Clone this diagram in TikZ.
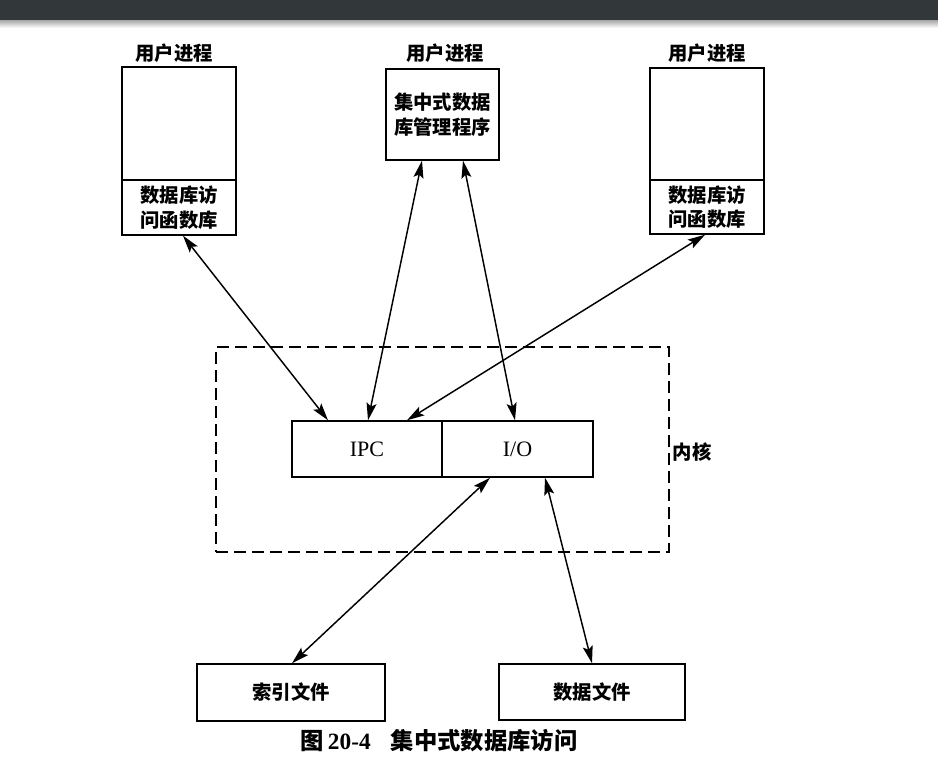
\documentclass[tikz,border=0pt]{standalone}
\usepackage{fontspec}
\setmainfont{Liberation Serif}
\newfontfamily\cjk{Noto Sans CJK SC}
\usetikzlibrary{arrows.meta}
\definecolor{barcol}{HTML}{323839}
\begin{document}
\begin{tikzpicture}[x=0.75pt,y=-0.75pt,
  bx/.style 2 args={draw, line width=1.1pt, inner sep=0pt, align=center,
     minimum width=#1*0.75pt, minimum height=#2*0.75pt},
  lbl/.style={font=\cjk\bfseries\fontsize{14.5}{18.5}\selectfont, align=center},
  tip/.tip={Stealth[length=13pt,width=7.5pt,inset=2.5pt]},
  dbl/.style={line width=1.1pt, tip-tip},
  kbox/.style={draw, line width=1.1pt, dash pattern=on 9pt off 4.5pt}
]
\useasboundingbox (0,0) rectangle (938,771);
\fill[white] (0,0) rectangle (938,771);
\fill[barcol] (0,0) rectangle (938,20);
\shade[top color=black!35, bottom color=white] (0,20) rectangle (938,28);

% user processes
\node[lbl] (lt) at (174,53) {用户进程};
\node[bx={114}{113}] (ltop) at (179,123.5) {};
\node[bx={114}{55}, lbl] (llib) at (179,207.5) {数据库访\\问函数库};

\node[lbl] (mt) at (445,53) {用户进程};
\node[bx={113}{91}, lbl] (mbox) at (442.5,114.5) {集中式数据\\库管理程序};

\node[lbl] (rt) at (707,53) {用户进程};
\node[bx={114}{112}] (rtop) at (707,124) {};
\node[bx={114}{54}, lbl] (rlib) at (707,207) {数据库访\\问函数库};

% kernel
\node[kbox, minimum width=453*0.75pt, minimum height=205*0.75pt, inner sep=0pt] (kern) at (442.5,449.5) {};
\node[bx={150}{56}, font=\fontsize{16.5}{18}\selectfont] (ipc) at (367,449) {IPC};
\node[bx={151}{56}, font=\fontsize{16.5}{18}\selectfont] (io) at (517.5,449) {I/O};
\node[lbl] (nk) at (692,452) {内核};

% files
\node[bx={188}{57}, lbl] (idx) at (291,692.5) {索引文件};
\node[bx={186}{56}, lbl] (dat) at (592,692) {数据文件};

% caption
\node (cap) at (439,741) {{\cjk\bfseries\fontsize{17.5}{19}\selectfont 图}\hspace{0.3em}{\bfseries\fontsize{17.5}{19}\selectfont 20-4}\hspace{1.5em}{\cjk\bfseries\fontsize{17.5}{19}\selectfont 集中式数据库访问}};

% connectors
\draw[dbl] ([xshift=4*0.75pt]llib.south) -- ([xshift=-39*0.75pt]ipc.north);
\draw[dbl] ([xshift=-20.5*0.75pt]mbox.south) -- ([xshift=1*0.75pt]ipc.north);
\draw[dbl] ([xshift=20.5*0.75pt]mbox.south) -- ([xshift=-2.5*0.75pt]io.north);
\draw[dbl] ([xshift=-2*0.75pt]rlib.south) -- ([xshift=40*0.75pt]ipc.north);
\draw[dbl] ([xshift=-27.5*0.75pt]io.south) -- ([xshift=1*0.75pt]idx.north);
\draw[dbl] ([xshift=27.5*0.75pt]io.south) -- (dat.north);
\end{tikzpicture}
\end{document}
